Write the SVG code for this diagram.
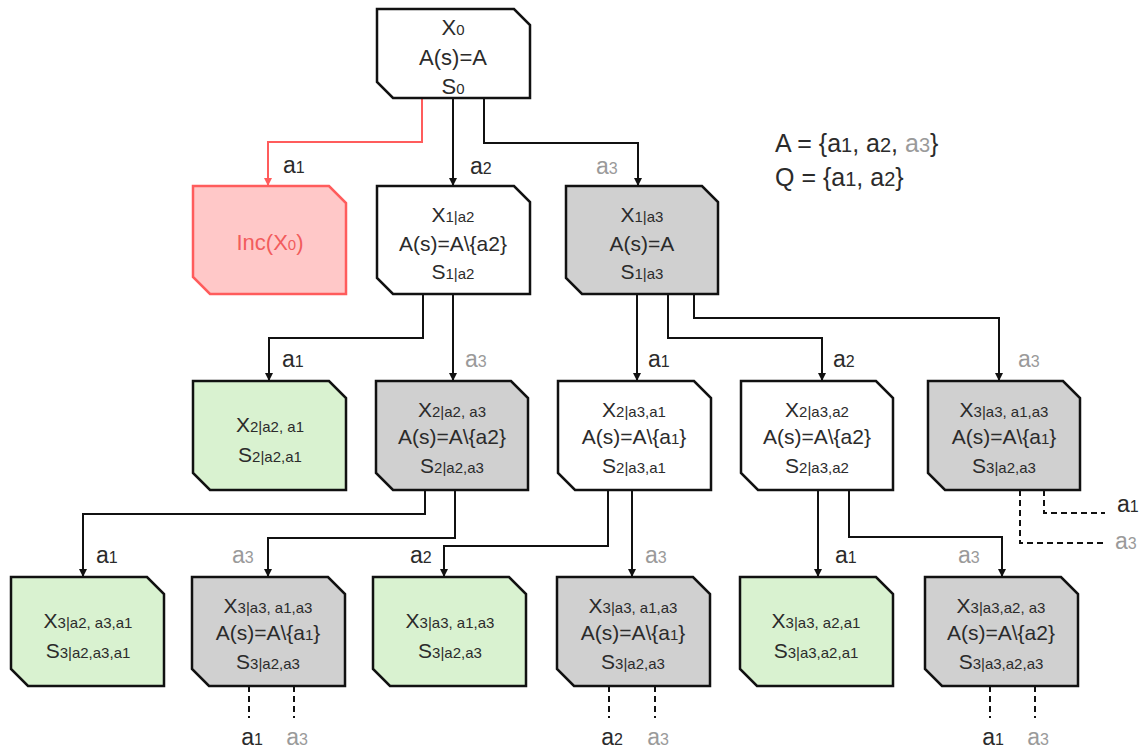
<svg xmlns="http://www.w3.org/2000/svg" width="1143" height="749" viewBox="0 0 1143 749">
  <style>
    text { font-family: "Liberation Sans", Arial, sans-serif; font-size: 21px; fill: #2b2b2b; }
    .mid { text-anchor: middle; }
    .sub { font-size: 15px; }
    .lbl { font-size: 23px; }
    .lbl .sub { font-size: 16px; }
    .big { font-size: 22px; }
    .leg { font-size: 25px; }
    .leg .d { font-size: 20px; }
    .grey { fill: #9a9a9a; }
    .node { stroke: #111; stroke-width: 2.5; stroke-linejoin: miter; }
    .white { fill: #ffffff; }
    .shade { fill: #d0d0d0; }
    .green { fill: #d9f2d0; }
    .inc { fill: #ffc8c8; stroke: #ff5c5c; stroke-width: 2.5; }
    .inc-text { fill: #f25c5c; }
    .edge { fill: none; stroke: #111; stroke-width: 2; }
    .edge-red { fill: none; stroke: #ff5c5c; stroke-width: 2; }
    .dash { fill: none; stroke: #111; stroke-width: 2; stroke-dasharray: 6 4; }
  </style>
  <defs>
    <marker id="arrow" viewBox="0 0 8 8" refX="8" refY="4" markerWidth="8" markerHeight="8" markerUnits="userSpaceOnUse" orient="auto">
      <path d="M0,0 L8,4 L0,8 z" fill="#111"/>
    </marker>
    <marker id="arrow-red" viewBox="0 0 8 8" refX="8" refY="4" markerWidth="8" markerHeight="8" markerUnits="userSpaceOnUse" orient="auto">
      <path d="M0,0 L8,4 L0,8 z" fill="#ff5c5c"/>
    </marker>
  </defs>

  <!-- connectors -->
  <g id="connectors">
    <path class="edge-red" d="M422,98 V142 H268 V186" marker-end="url(#arrow-red)"/>
    <path class="edge" d="M453,98 V186" marker-end="url(#arrow)"/>
    <path class="edge" d="M484,98 V143 H638 V186" marker-end="url(#arrow)"/>

    <path class="edge" d="M423,294 V338 H269 V381" marker-end="url(#arrow)"/>
    <path class="edge" d="M453,294 V381" marker-end="url(#arrow)"/>
    <path class="edge" d="M637,294 V381" marker-end="url(#arrow)"/>
    <path class="edge" d="M668,294 V338 H822 V381" marker-end="url(#arrow)"/>
    <path class="edge" d="M694,294 V318 H999 V381" marker-end="url(#arrow)"/>

    <path class="edge" d="M425,490 V514 H83 V577" marker-end="url(#arrow)"/>
    <path class="edge" d="M455,490 V538 H268 V577" marker-end="url(#arrow)"/>
    <path class="edge" d="M608,490 V546 H444 V577" marker-end="url(#arrow)"/>
    <path class="edge" d="M632,490 V577" marker-end="url(#arrow)"/>
    <path class="edge" d="M818,490 V577" marker-end="url(#arrow)"/>
    <path class="edge" d="M849,490 V537 H1002 V577" marker-end="url(#arrow)"/>

    <path class="dash" d="M1044,490 V513 H1105"/>
    <path class="dash" d="M1020,490 V543 H1105"/>
    <path class="dash" d="M249,686 V718 M294,686 V718"/>
    <path class="dash" d="M609,686 V718 M655,686 V718"/>
    <path class="dash" d="M990,686 V718 M1035,686 V718"/>

    <!-- edge labels -->
    <text x="283" y="173" class="lbl">a<tspan class="sub">1</tspan></text>
    <text x="470" y="174" class="lbl">a<tspan class="sub">2</tspan></text>
    <text x="596" y="174" class="lbl grey">a<tspan class="sub">3</tspan></text>

    <text x="282" y="367" class="lbl">a<tspan class="sub">1</tspan></text>
    <text x="465" y="367" class="lbl grey">a<tspan class="sub">3</tspan></text>
    <text x="648" y="367" class="lbl">a<tspan class="sub">1</tspan></text>
    <text x="833" y="367" class="lbl">a<tspan class="sub">2</tspan></text>
    <text x="1018" y="367" class="lbl grey">a<tspan class="sub">3</tspan></text>

    <text x="96" y="563" class="lbl">a<tspan class="sub">1</tspan></text>
    <text x="232" y="563" class="lbl grey">a<tspan class="sub">3</tspan></text>
    <text x="410" y="563" class="lbl">a<tspan class="sub">2</tspan></text>
    <text x="645" y="563" class="lbl grey">a<tspan class="sub">3</tspan></text>
    <text x="835" y="563" class="lbl">a<tspan class="sub">1</tspan></text>
    <text x="958" y="563" class="lbl grey">a<tspan class="sub">3</tspan></text>

    <text x="1117" y="512" class="lbl">a<tspan class="sub">1</tspan></text>
    <text x="1115" y="549" class="lbl grey">a<tspan class="sub">3</tspan></text>

    <text x="252" y="745" class="lbl mid">a<tspan class="sub">1</tspan></text>
    <text x="297" y="745" class="lbl mid grey">a<tspan class="sub">3</tspan></text>
    <text x="612" y="745" class="lbl mid">a<tspan class="sub">2</tspan></text>
    <text x="658" y="745" class="lbl mid grey">a<tspan class="sub">3</tspan></text>
    <text x="993" y="745" class="lbl mid">a<tspan class="sub">1</tspan></text>
    <text x="1038" y="745" class="lbl mid grey">a<tspan class="sub">3</tspan></text>
  </g>

  <!-- legend -->
  <g id="legend">
    <text x="775" y="152" class="leg">A = {a<tspan class="d">1</tspan>, a<tspan class="d">2</tspan>, <tspan class="grey">a<tspan class="d">3</tspan></tspan>}</text>
    <text x="775" y="186" class="leg">Q = {a<tspan class="d">1</tspan>, a<tspan class="d">2</tspan>}</text>
  </g>

  <!-- level 0 -->
  <g id="node-x0">
    <path class="node white" d="M377,9 H514 L530,25 V98 H393 L377,82 Z"/>
    <text x="453" y="35" class="mid big">X<tspan class="sub">0</tspan></text>
    <text x="453" y="65" class="mid big">A(s)=A</text>
    <text x="453" y="94" class="mid big">S<tspan class="sub">0</tspan></text>
  </g>

  <!-- level 1 -->
  <g id="node-inc">
    <path class="inc" d="M193,186 H329 L346,203 V294 H210 L193,277 Z"/>
    <text x="270" y="250" class="mid inc-text big">Inc(X<tspan class="sub">0</tspan>)</text>
  </g>
  <g id="node-x1-a2">
    <path class="node white" d="M377,186 H514 L530,202 V294 H393 L377,278 Z"/>
    <text x="453" y="222" class="mid">X<tspan class="sub">1|a2</tspan></text>
    <text x="453" y="251" class="mid">A(s)=A\{a2}</text>
    <text x="453" y="279" class="mid">S<tspan class="sub">1|a2</tspan></text>
  </g>
  <g id="node-x1-a3">
    <path class="node shade" d="M566,186 H702 L718,202 V294 H582 L566,278 Z"/>
    <text x="642" y="222" class="mid">X<tspan class="sub">1|a3</tspan></text>
    <text x="642" y="251" class="mid">A(s)=A</text>
    <text x="642" y="279" class="mid">S<tspan class="sub">1|a3</tspan></text>
  </g>

  <!-- level 2 -->
  <g id="node-x2-a2-a1">
    <path class="node green" d="M193,381 H329 L346,398 V490 H210 L193,473 Z"/>
    <text x="270" y="432" class="mid">X<tspan class="sub">2|a2, a1</tspan></text>
    <text x="270" y="462" class="mid">S<tspan class="sub">2|a2,a1</tspan></text>
  </g>
  <g id="node-x2-a2-a3">
    <path class="node shade" d="M376,381 H511 L528,398 V490 H393 L376,473 Z"/>
    <text x="452" y="417" class="mid">X<tspan class="sub">2|a2, a3</tspan></text>
    <text x="452" y="444" class="mid">A(s)=A\{a2}</text>
    <text x="452" y="473" class="mid">S<tspan class="sub">2|a2,a3</tspan></text>
  </g>
  <g id="node-x2-a3-a1">
    <path class="node white" d="M558,381 H694 L711,398 V490 H575 L558,473 Z"/>
    <text x="634" y="417" class="mid">X<tspan class="sub">2|a3,a1</tspan></text>
    <text x="634" y="444" class="mid">A(s)=A\{a<tspan class="sub">1</tspan>}</text>
    <text x="634" y="473" class="mid">S<tspan class="sub">2|a3,a1</tspan></text>
  </g>
  <g id="node-x2-a3-a2">
    <path class="node white" d="M741,381 H876 L893,398 V490 H758 L741,473 Z"/>
    <text x="817" y="417" class="mid">X<tspan class="sub">2|a3,a2</tspan></text>
    <text x="817" y="444" class="mid">A(s)=A\{a2}</text>
    <text x="817" y="473" class="mid">S<tspan class="sub">2|a3,a2</tspan></text>
  </g>
  <g id="node-x3-right">
    <path class="node shade" d="M928,381 H1063 L1080,398 V490 H945 L928,473 Z"/>
    <text x="1004" y="417" class="mid">X<tspan class="sub">3|a3, a1,a3</tspan></text>
    <text x="1004" y="444" class="mid">A(s)=A\{a<tspan class="sub">1</tspan>}</text>
    <text x="1004" y="473" class="mid">S<tspan class="sub">3|a2,a3</tspan></text>
  </g>

  <!-- level 3 -->
  <g id="node-x3-a2-a3-a1">
    <path class="node green" d="M11,577 H147 L164,594 V686 H28 L11,669 Z"/>
    <text x="88" y="628" class="mid">X<tspan class="sub">3|a2, a3,a1</tspan></text>
    <text x="88" y="658" class="mid">S<tspan class="sub">3|a2,a3,a1</tspan></text>
  </g>
  <g id="node-x3-a3-a1-a3-left">
    <path class="node shade" d="M192,577 H328 L345,594 V686 H209 L192,669 Z"/>
    <text x="268" y="613" class="mid">X<tspan class="sub">3|a3, a1,a3</tspan></text>
    <text x="268" y="640" class="mid">A(s)=A\{a<tspan class="sub">1</tspan>}</text>
    <text x="268" y="669" class="mid">S<tspan class="sub">3|a2,a3</tspan></text>
  </g>
  <g id="node-x3-a3-a1-a3-green">
    <path class="node green" d="M373,577 H509 L526,594 V686 H390 L373,669 Z"/>
    <text x="450" y="628" class="mid">X<tspan class="sub">3|a3, a1,a3</tspan></text>
    <text x="450" y="658" class="mid">S<tspan class="sub">3|a2,a3</tspan></text>
  </g>
  <g id="node-x3-a3-a1-a3-mid">
    <path class="node shade" d="M557,577 H693 L710,594 V686 H574 L557,669 Z"/>
    <text x="633" y="613" class="mid">X<tspan class="sub">3|a3, a1,a3</tspan></text>
    <text x="633" y="640" class="mid">A(s)=A\{a<tspan class="sub">1</tspan>}</text>
    <text x="633" y="669" class="mid">S<tspan class="sub">3|a2,a3</tspan></text>
  </g>
  <g id="node-x3-a3-a2-a1">
    <path class="node green" d="M740,577 H876 L893,594 V686 H757 L740,669 Z"/>
    <text x="816" y="628" class="mid">X<tspan class="sub">3|a3, a2,a1</tspan></text>
    <text x="816" y="658" class="mid">S<tspan class="sub">3|a3,a2,a1</tspan></text>
  </g>
  <g id="node-x3-a3-a2-a3">
    <path class="node shade" d="M925,577 H1061 L1078,594 V686 H942 L925,669 Z"/>
    <text x="1001" y="613" class="mid">X<tspan class="sub">3|a3,a2, a3</tspan></text>
    <text x="1001" y="640" class="mid">A(s)=A\{a2}</text>
    <text x="1001" y="669" class="mid">S<tspan class="sub">3|a3,a2,a3</tspan></text>
  </g>
</svg>
